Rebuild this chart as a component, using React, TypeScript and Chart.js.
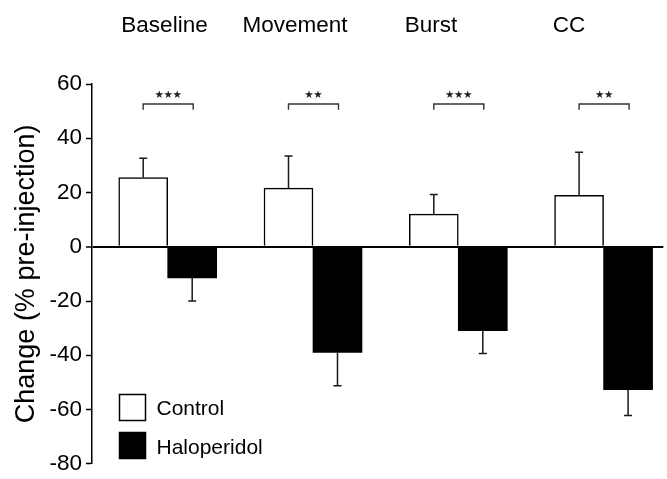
import React, { useEffect, useRef } from 'react';
import { Chart, registerables } from 'chart.js';

Chart.register(...registerables);

// ---- data ----
const categories = ['Baseline', 'Movement', 'Burst', 'CC'];
const seriesNames = ['Control', 'Haloperidol'];
const controlValues = [25.5, 21.6, 12.0, 19.0];
const controlErrors = [7.1, 11.9, 7.3, 15.8];
const haloValues = [-11.5, -39.0, -30.9, -52.7];
const haloErrors = [8.5, 12.2, 8.5, 9.5];
const significance = ['***', '**', '***', '**'];
const yTickStep = 20;
const yMin = -80;
const yMax = 60;
const yTitle = 'Change (% pre-injection)';

// ---- layout / style constants ----
const FONT = '"Liberation Sans", Arial, Helvetica, sans-serif';
const categoryLabelX = [164.5, 295, 431, 569];
const bracketValue = 52.6;
const bracketDrop = 2.1;
const starValue = 56;

const annotations = {
  id: 'annotations',
  afterDatasetsDraw(chart: any) {
    const ctx = chart.ctx;
    const y = chart.scales.y;
    const errs = [controlErrors, haloErrors];
    ctx.save();
    ctx.strokeStyle = '#1a1a1a';
    ctx.lineWidth = 1.5;
    chart.data.datasets.forEach((ds: any, d: number) => {
      const meta = chart.getDatasetMeta(d);
      meta.data.forEach((bar: any, i: number) => {
        const v = ds.data[i].y;
        const tip = y.getPixelForValue(v + Math.sign(v) * errs[d][i]);
        ctx.beginPath();
        ctx.moveTo(bar.x, bar.y);
        ctx.lineTo(bar.x, tip);
        ctx.moveTo(bar.x - 4, tip);
        ctx.lineTo(bar.x + 4, tip);
        ctx.stroke();
      });
    });

    // significance brackets
    const m0 = chart.getDatasetMeta(0);
    const m1 = chart.getDatasetMeta(1);
    const yb = y.getPixelForValue(bracketValue);
    const yd = y.getPixelForValue(bracketValue - bracketDrop);
    const ys = y.getPixelForValue(starValue);
    ctx.strokeStyle = '#333';
    ctx.lineWidth = 1.4;
    ctx.fillStyle = '#222';
    ctx.font = '10.5px "DejaVu Sans"';
    ctx.textAlign = 'center';
    ctx.textBaseline = 'middle';
    significance.forEach((s, i) => {
      const x0 = m0.data[i].x;
      const x1 = m1.data[i].x + 1;
      ctx.beginPath();
      ctx.moveTo(x0, yd);
      ctx.lineTo(x0, yb);
      ctx.lineTo(x1, yb);
      ctx.lineTo(x1, yd);
      ctx.stroke();
      const n = s.length;
      const cx = (x0 + x1) / 2;
      for (let k = 0; k < n; k++) {
        ctx.fillText('\u2605', cx + (k - (n - 1) / 2) * 9, ys);
      }
    });
    ctx.restore();
  },
  afterDraw(chart: any) {
    const ctx = chart.ctx;
    ctx.save();
    // category labels on top
    ctx.fillStyle = '#000';
    ctx.font = `22.5px ${FONT}`;
    ctx.textAlign = 'center';
    ctx.textBaseline = 'alphabetic';
    categories.forEach((c, i) => {
      ctx.fillText(c, categoryLabelX[i], 31.5);
    });
    // legend
    const ds = chart.data.datasets;
    const boxX = 119.5;
    const boxYs = [394.5, 432.5];
    const textYs = [415, 454];
    ds.forEach((d: any, i: number) => {
      ctx.fillStyle = d.backgroundColor;
      ctx.fillRect(boxX, boxYs[i], 26, 26);
      ctx.strokeStyle = '#000';
      ctx.lineWidth = 1.5;
      ctx.strokeRect(boxX, boxYs[i], 26, 26);
      ctx.fillStyle = '#000';
      ctx.font = `21px ${FONT}`;
      ctx.textAlign = 'left';
      ctx.fillText(d.label, 156.5, textYs[i]);
    });
    ctx.restore();
  },
};

export default function App() {
  const canvasRef = useRef<HTMLCanvasElement | null>(null);

  useEffect(() => {
    if (!canvasRef.current) return;
    const chart = new Chart(canvasRef.current, {
      type: 'bar',
      data: {
        datasets: [
          {
            label: seriesNames[0],
            data: controlValues.map((v, i) => ({ x: i, y: v })),
            backgroundColor: '#ffffff',
            borderColor: '#000000',
            borderWidth: 1.5,
            barThickness: 49,
          },
          {
            label: seriesNames[1],
            data: haloValues.map((v, i) => ({ x: i, y: v })),
            backgroundColor: '#000000',
            borderColor: '#000000',
            borderWidth: 0,
            barThickness: 49,
          },
        ],
      } as any,
      options: {
        animation: false,
        responsive: true,
        maintainAspectRatio: false,
        devicePixelRatio: 1,
        layout: { padding: { top: 84, bottom: 13, left: 0, right: 3.7 } },
        plugins: {
          legend: { display: false },
          tooltip: { enabled: false },
        },
        scales: {
          x: {
            type: 'linear',
            min: -0.521,
            max: 3.411,
            offset: false,
            display: false,
          },
          y: {
            min: yMin,
            max: yMax,
            afterFit: (s: any) => {
              s.width = 92;
            },
            border: { display: true, color: '#000', width: 1.5 },
            grid: {
              drawOnChartArea: true,
              drawTicks: true,
              tickLength: 6,
              tickColor: '#000',
              tickWidth: 1.5,
              color: (c: any) => (c.tick && c.tick.value === 0 ? '#000' : 'rgba(0,0,0,0)'),
              lineWidth: (c: any) => (c.tick && c.tick.value === 0 ? 2 : 1),
            },
            ticks: {
              stepSize: yTickStep,
              color: '#000',
              padding: 4,
              font: { family: FONT, size: 22.5, lineHeight: 1 },
            },
            title: {
              display: true,
              text: yTitle,
              color: '#000',
              font: { family: FONT, size: 27, lineHeight: 1 },
              padding: { top: 13.5, bottom: 0 },
            },
          },
        },
      } as any,
      plugins: [annotations],
    });
    return () => chart.destroy();
  }, []);

  return (
    <div style={{ position: 'fixed', left: 0, top: 0, width: 667, height: 479, background: '#fff' }}>
      <canvas ref={canvasRef} />
    </div>
  );
}
